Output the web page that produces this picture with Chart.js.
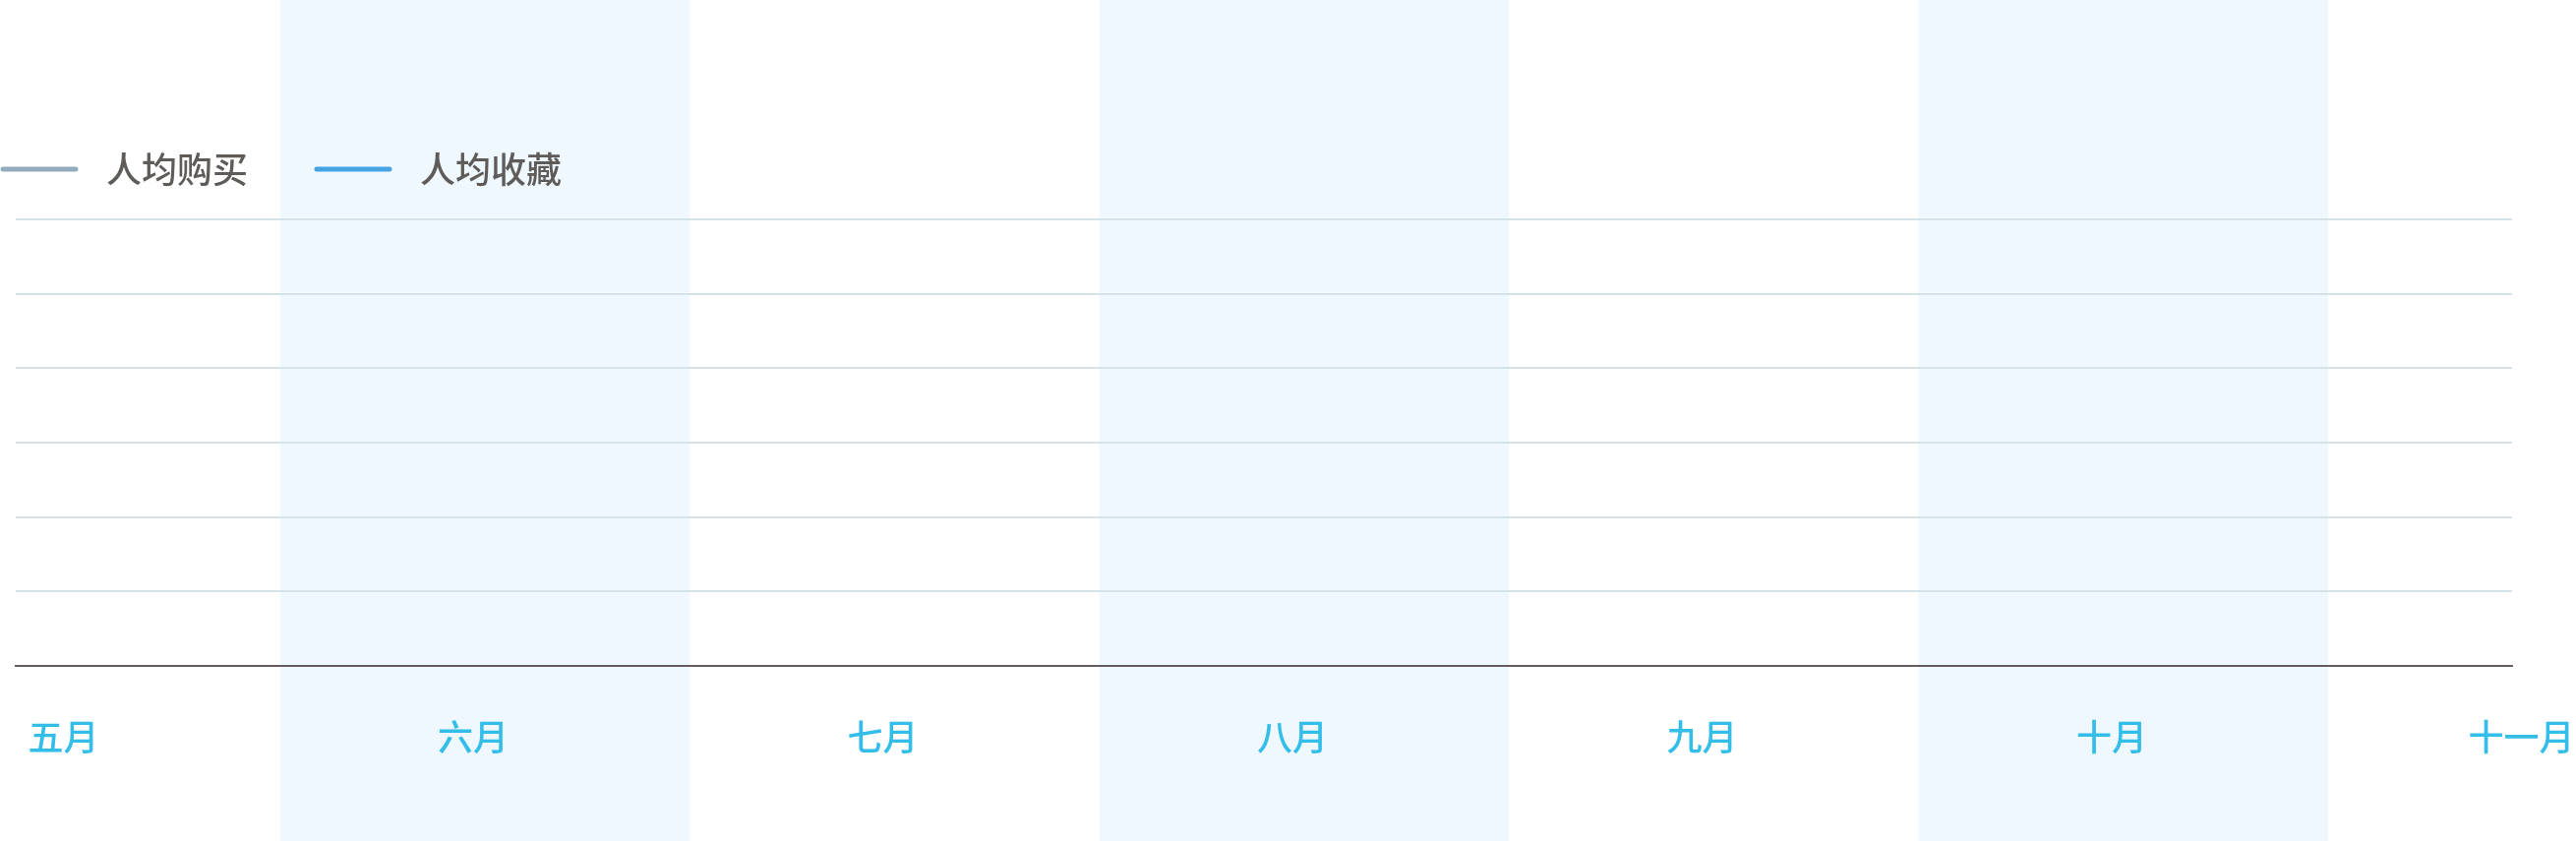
<!DOCTYPE html>
<html lang="zh-CN">
<head>
<meta charset="utf-8">
<title>人均购买 / 人均收藏</title>
<script src="https://cdn.jsdelivr.net/npm/chart.js@4.4.1/dist/chart.umd.min.js"></script>
<style>
  html, body { margin: 0; padding: 0; background: #fff; }
  #wrap { width: 2619px; height: 855px; }
</style>
</head>
<body>
<div id="wrap"><canvas id="chart" width="2619" height="855"></canvas></div>
<script>
// 数据
const months = ['五月', '六月', '七月', '八月', '九月', '十月', '十一月']; // 横轴月份
const seriesNames = ['人均购买', '人均收藏'];
const buyPerUser = [null, null, null, null, null, null, null]; // 图上没有画出线
const favPerUser = [null, null, null, null, null, null, null];

const seriesColors = ['#92abbd', '#47a3e2'];
const FONT = "'Noto Sans CJK SC', 'Noto Sans', sans-serif";

Chart.defaults.font.family = FONT;
Chart.defaults.font.weight = '500';

// 图例里的短线 (画在 90px 宽的小画布上, 线只占前 80px)
function makeSwatch(color) {
    const c = document.createElement('canvas');
    c.width = 90;
    c.height = 6;
    const g = c.getContext('2d');
    g.strokeStyle = color;
    g.lineWidth = 5;
    g.lineCap = 'round';
    g.beginPath();
    g.moveTo(3, 3);
    g.lineTo(77, 3);
    g.stroke();
    return c;
}

// 隔一个月的浅蓝色背景带
const BAND_SHIFT = 12;
const bandPlugin = {
    id: 'bands',
    beforeDraw(chart) {
        const x = chart.scales.x;
        const ctx = chart.ctx;
        ctx.save();
        ctx.fillStyle = '#eef8fe';
        months.forEach((m, i) => {
            if (i % 2 === 0) return;
            const left = x.getPixelForValue(i - 0.5) + BAND_SHIFT;
            const right = x.getPixelForValue(i + 0.5) + BAND_SHIFT;
            ctx.fillRect(left, 0, right - left, chart.height);
        });
        ctx.restore();
    }
};

// 图例贴左边, 往上挪一点
const legendPlace = {
    id: 'legendPlace',
    afterLayout(chart) {
        const pad = chart.options.plugins.legend.labels.padding;
        chart.legend.left = -pad;
        chart.legend.top = 87;
    }
};

const toPoints = arr => arr.map((v, i) => ({ x: i, y: v }));

const config = {
    type: 'line',
    data: {
        datasets: [{
            label: seriesNames[0],
            data: toPoints(buyPerUser),
            borderColor: seriesColors[0],
            backgroundColor: seriesColors[0],
            borderWidth: 5,
            pointStyle: makeSwatch(seriesColors[0])
        }, {
            label: seriesNames[1],
            data: toPoints(favPerUser),
            borderColor: seriesColors[1],
            backgroundColor: seriesColors[1],
            borderWidth: 5,
            pointStyle: makeSwatch(seriesColors[1])
        }]
    },
    options: {
        responsive: false,
        animation: false,
        devicePixelRatio: 1,
        layout: {
            padding: { top: 110, left: 16, right: 65, bottom: 33 }
        },
        plugins: {
            legend: {
                display: true,
                position: 'top',
                align: 'start',
                labels: {
                    usePointStyle: true,
                    pointStyleWidth: 90,
                    boxHeight: 6,
                    padding: 67,
                    color: '#5f5b59',
                    font: { size: 36, weight: '500' }
                }
            },
            tooltip: { enabled: false }
        },
        scales: {
            x: {
                type: 'linear',
                min: -0.1164,
                max: 5.9772,
                afterBuildTicks(scale) {
                    scale.ticks = months.map((m, i) => ({ value: i }));
                },
                afterFit(scale) {
                    scale.paddingLeft = 0;
                    scale.paddingRight = 0;
                },
                grid: { display: false, drawTicks: false },
                border: { display: true, color: '#665c5d', width: 2 },
                ticks: {
                    autoSkip: false,
                    maxRotation: 0,
                    padding: 51,
                    color: '#33bde9',
                    font: { size: 36, weight: '500' },
                    callback: value => months[value]
                }
            },
            y: {
                min: 0,
                max: 6,
                ticks: { display: false, stepSize: 1 },
                border: { display: false },
                grid: {
                    drawTicks: false,
                    lineWidth: 2,
                    color: ctx => ctx.tick && ctx.tick.value === 0 ? 'rgba(0,0,0,0)' : '#d3e3e8'
                }
            }
        }
    },
    plugins: [bandPlugin, legendPlace]
};

const chart = new Chart(document.getElementById('chart'), config);
</script>
</body>
</html>
